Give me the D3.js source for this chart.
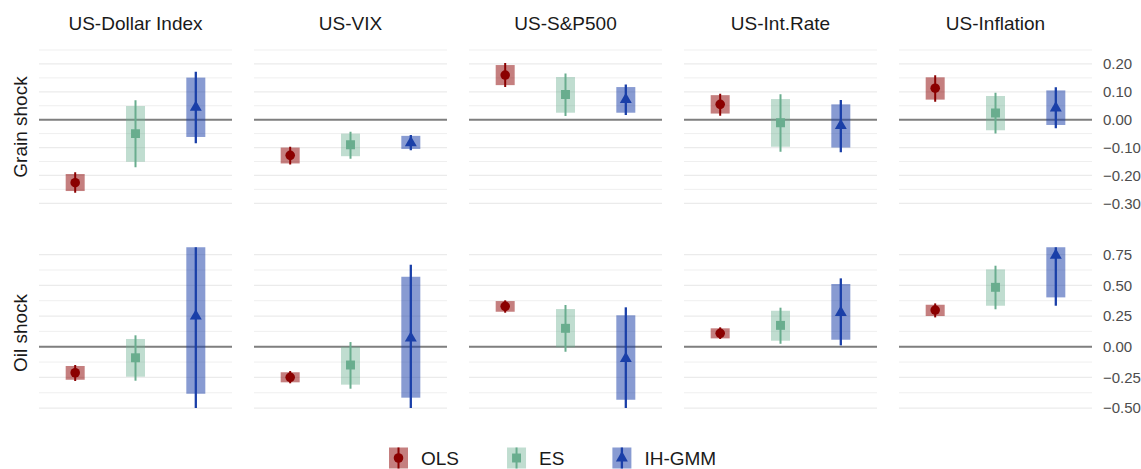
<!DOCTYPE html>
<html>
<head>
<meta charset="utf-8">
<script src="https://cdn.jsdelivr.net/npm/d3@7"></script>
<style>
  body { margin: 0; background: #fff; }
  svg text { font-family: "Liberation Sans", Arial, sans-serif; }
</style>
</head>
<body>
<svg id="chart" width="1141" height="469"></svg>
<script>
// facets
var variables = ["US-Dollar Index", "US-VIX", "US-S&P500", "US-Int.Rate", "US-Inflation"];
var shocks = ["Grain shock", "Oil shock"];
var methods = ["OLS", "ES", "IH-GMM"];

// grain shock, one row per variable: [OLS, ES, IH-GMM]
var grainPoint = [[-0.226, -0.050, 0.044], [-0.128, -0.090, -0.083], [0.160, 0.090, 0.072], [0.055, -0.011, -0.021], [0.113, 0.024, 0.042]];
var grainBarLo = [[-0.256, -0.151, -0.062], [-0.157, -0.131, -0.105], [0.124, 0.025, 0.025], [0.022, -0.097, -0.100], [0.072, -0.038, -0.019]];
var grainBarHi = [[-0.195, 0.049, 0.151], [-0.100, -0.050, -0.058], [0.196, 0.153, 0.117], [0.088, 0.074, 0.055], [0.152, 0.085, 0.105]];
var grainCiLo = [[-0.262, -0.171, -0.085], [-0.161, -0.140, -0.110], [0.117, 0.013, 0.017], [0.014, -0.115, -0.117], [0.064, -0.050, -0.031]];
var grainCiHi = [[-0.189, 0.070, 0.172], [-0.097, -0.043, -0.055], [0.203, 0.166, 0.126], [0.093, 0.091, 0.071], [0.159, 0.097, 0.116]];

// oil shock
var oilPoint = [[-0.212, -0.090, 0.250], [-0.249, -0.149, 0.070], [0.329, 0.150, -0.097], [0.109, 0.174, 0.278], [0.299, 0.484, 0.745]];
var oilBarLo = [[-0.269, -0.244, -0.383], [-0.290, -0.309, -0.415], [0.285, -0.005, -0.432], [0.068, 0.049, 0.057], [0.250, 0.334, 0.402]];
var oilBarHi = [[-0.157, 0.063, 0.850], [-0.208, 0.000, 0.570], [0.372, 0.307, 0.256], [0.150, 0.293, 0.511], [0.342, 0.630, 0.850]];
var oilCiLo = [[-0.279, -0.277, -0.650], [-0.298, -0.342, -0.620], [0.277, -0.041, -0.560], [0.063, 0.024, 0.011], [0.239, 0.305, 0.334]];
var oilCiHi = [[-0.149, 0.093, 1.000], [-0.198, 0.038, 0.668], [0.378, 0.340, 0.321], [0.158, 0.318, 0.557], [0.353, 0.660, 0.900]];

// axis ticks
var grainTicks = [-0.3, -0.2, -0.1, 0, 0.1, 0.2];
var grainMinor = [-0.25, -0.15, -0.05, 0.05, 0.15, 0.25];
var oilTicks = [-0.5, -0.25, 0, 0.25, 0.5, 0.75];
var oilMinor = [-0.375, -0.125, 0.125, 0.375, 0.625];

var colors = { "OLS": "#8b0000", "ES": "#69ad8e", "IH-GMM": "#1a3fa8" };
var barAlpha = { "OLS": 0.5, "ES": 0.42, "IH-GMM": 0.52 };
var shapes = { "OLS": d3.symbolCircle, "ES": d3.symbolSquare, "IH-GMM": d3.symbolTriangle };
var shapeSize = { "OLS": 72, "ES": 80, "IH-GMM": 62 };
var lineW = { "OLS": 2, "ES": 2, "IH-GMM": 2.3 };

var svg = d3.select("#chart");

var panelX = d3.scaleBand().domain(variables).range([39, 1092]).paddingInner(22 / 215);

var rows = [
    { name: shocks[0], y: d3.scaleLinear().domain([-0.3, 0.25]).range([203.3, 50]),
      ticks: grainTicks, minor: grainMinor, fmt: d3.format(".2f"), labelY: 127,
      pt: grainPoint, bl: grainBarLo, bh: grainBarHi, cl: grainCiLo, ch: grainCiHi },
    { name: shocks[1], y: d3.scaleLinear().domain([-0.5, 0.81]).range([408.1, 247.3]),
      ticks: oilTicks, minor: oilMinor, fmt: d3.format(".2f"), labelY: 333,
      pt: oilPoint, bl: oilBarLo, bh: oilBarHi, cl: oilCiLo, ch: oilCiHi }
];

var defs = svg.append("defs");

rows.forEach(function (row, ri) {
    var y = row.y;
    variables.forEach(function (v, vi) {
        var x0 = panelX(v), w = panelX.bandwidth();
        var x = d3.scalePoint().domain(methods).range([x0, x0 + w]).padding(0.6);
        var g = svg.append("g");

        // grid
        g.selectAll(".minor").data(row.minor).enter().append("line")
            .attr("x1", x0).attr("x2", x0 + w)
            .attr("y1", function (d) { return y(d); }).attr("y2", function (d) { return y(d); })
            .attr("stroke", "#efefef").attr("stroke-width", 1);
        g.selectAll(".major").data(row.ticks).enter().append("line")
            .attr("x1", x0).attr("x2", x0 + w)
            .attr("y1", function (d) { return y(d); }).attr("y2", function (d) { return y(d); })
            .attr("stroke", "#ebebeb").attr("stroke-width", 1.3);
        // zero line
        g.append("line")
            .attr("x1", x0).attr("x2", x0 + w)
            .attr("y1", y(0)).attr("y2", y(0))
            .attr("stroke", "#7f7f7f").attr("stroke-width", 2);

        var clipId = "clip" + ri + "_" + vi;
        defs.append("clipPath").attr("id", clipId).append("rect")
            .attr("x", x0).attr("width", w)
            .attr("y", y.range()[1]).attr("height", y.range()[0] - y.range()[1]);
        var marks = g.append("g").attr("clip-path", "url(#" + clipId + ")");
        var bw = x.step() * 0.315;

        methods.forEach(function (m, mi) {
            var cx = x(m);
            marks.append("rect")
                .attr("x", cx - bw / 2).attr("width", bw)
                .attr("y", y(row.bh[vi][mi]))
                .attr("height", y(row.bl[vi][mi]) - y(row.bh[vi][mi]))
                .attr("fill", colors[m]).attr("fill-opacity", barAlpha[m]);
            marks.append("line")
                .attr("x1", cx).attr("x2", cx)
                .attr("y1", y(row.ch[vi][mi])).attr("y2", y(row.cl[vi][mi]))
                .attr("stroke", colors[m]).attr("stroke-width", lineW[m]);
            marks.append("path")
                .attr("d", d3.symbol().type(shapes[m]).size(shapeSize[m])())
                .attr("transform", "translate(" + cx + "," + y(row.pt[vi][mi]) + ")")
                .attr("fill", colors[m]);
        });

        if (ri === 0) {
            svg.append("text")
                .attr("x", x0 + w / 2).attr("y", 30)
                .attr("text-anchor", "middle")
                .attr("font-size", 19).attr("fill", "#1a1a1a")
                .text(v);
        }
    });

    // right axis labels
    svg.append("g").selectAll("text").data(row.ticks).enter().append("text")
        .attr("x", 1103).attr("y", function (d) { return y(d); })
        .attr("dy", "0.35em")
        .attr("font-size", 15).attr("fill", "#4d4d4d")
        .text(function (d) { return row.fmt(d); });

    // row strip
    svg.append("text")
        .attr("transform", "translate(26.5," + row.labelY + ") rotate(-90)")
        .attr("text-anchor", "middle")
        .attr("font-size", 19).attr("fill", "#1a1a1a")
        .text(row.name);
});

// legend
var legend = svg.append("g");
var lx = 389, ly = 458;
methods.forEach(function (m) {
    var item = legend.append("g").attr("transform", "translate(" + lx + "," + ly + ")");
    item.append("rect").attr("x", 0).attr("y", -10.5).attr("width", 19).attr("height", 21)
        .attr("fill", colors[m]).attr("fill-opacity", barAlpha[m]);
    item.append("line").attr("x1", 9.5).attr("x2", 9.5).attr("y1", -10.5).attr("y2", 10.5)
        .attr("stroke", colors[m]).attr("stroke-width", lineW[m]);
    item.append("path").attr("d", d3.symbol().type(shapes[m]).size(shapeSize[m])())
        .attr("transform", "translate(9.5,0)").attr("fill", colors[m]);
    var t = item.append("text").attr("x", 32).attr("y", 0).attr("dy", "0.36em")
        .attr("font-size", 19).attr("fill", "#1a1a1a").text(m);
    lx += 32 + t.node().getComputedTextLength() + 48;
});
</script>
</body>
</html>
